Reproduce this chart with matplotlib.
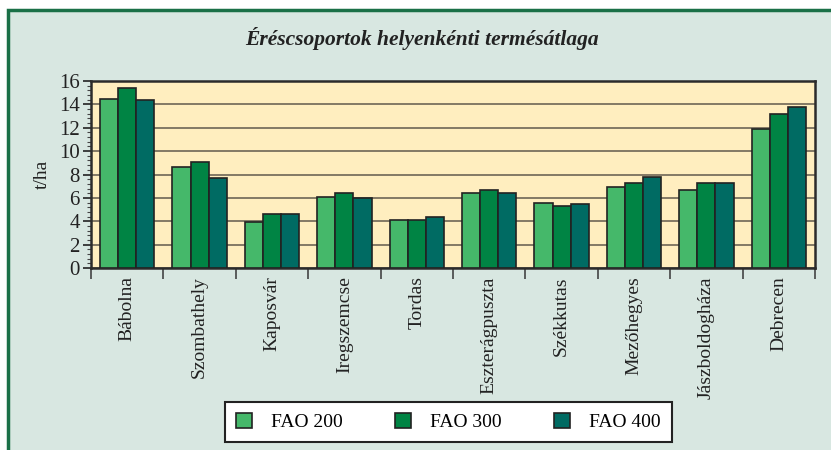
import matplotlib.pyplot as plt
import matplotlib.patches as mpatches
import numpy as np

helyek = ["Bábolna", "Szombathely", "Kaposvár", "Iregszemcse", "Tordas",
          "Eszterágpuszta", "Székkutas", "Mezőhegyes", "Jászboldogháza", "Debrecen"]
fao200 = [14.5, 8.6, 3.9, 6.1, 4.1, 6.4, 5.6, 6.9, 6.7, 11.9]
fao300 = [15.4, 9.1, 4.6, 6.4, 4.1, 6.7, 5.3, 7.3, 7.3, 13.2]
fao400 = [14.4, 7.7, 4.6, 6.0, 4.4, 6.4, 5.5, 7.8, 7.3, 13.8]
sorozatok = ["FAO 200", "FAO 300", "FAO 400"]
szinek = ["#45b86a", "#008444", "#006b63"]

plt.rcParams["font.family"] = ["Liberation Serif", "DejaVu Serif"]

fig = plt.figure(figsize=(8.31, 4.5), dpi=100, facecolor="white")
# background frame with green border (top and left only visible)
fig.patches.append(mpatches.Rectangle((8 / 831, -0.1), 1.1, 1 - 10 / 450 + 0.1,
                                      transform=fig.transFigure, facecolor="#d8e7e1",
                                      edgecolor="#1a7047", linewidth=2.5, zorder=-10))

ax = fig.add_axes([91 / 831, 1 - 268 / 450, (815 - 91) / 831, (268 - 81) / 450])
ax.set_facecolor("#ffeebf")

x = np.arange(len(helyek))
w = 0.25
for i, (vals, nev, c) in enumerate(zip([fao200, fao300, fao400], sorozatok, szinek)):
    ax.bar(x + (i - 1) * w, vals, width=w, color=c, edgecolor="#222222",
           linewidth=1.2, label=nev, zorder=3)

ax.set_xlim(-0.5, len(helyek) - 0.5)
ax.set_ylim(0, 16)
ax.set_yticks(range(0, 17, 2))
ax.set_yticks(np.arange(0, 16.01, 0.4), minor=True)
ax.yaxis.grid(True, color="#6e6656", linewidth=1.2, zorder=1)
ax.set_axisbelow(True)
ax.tick_params(axis="y", which="major", direction="out", length=6, width=1.2,
               labelsize=15, pad=2, colors="#222222")
ax.tick_params(axis="y", which="minor", direction="out", length=3, width=0.8, colors="#444444")

# category separators as x ticks, labels in between
ax.set_xticks(np.arange(-0.5, len(helyek), 1))
ax.set_xticklabels([])
ax.set_xticks(x, minor=True)
ax.set_xticklabels(helyek, minor=True, rotation=90, fontsize=14, va="top", ha="center")
ax.tick_params(axis="x", which="major", direction="out", length=8, width=1.2, colors="#444444")
ax.tick_params(axis="x", which="minor", length=0, pad=6, labelcolor="#222222")

for s in ax.spines.values():
    s.set_color("#2b2b2b")
    s.set_linewidth(1.8)

ax.set_ylabel("t/ha", fontsize=14, labelpad=6, color="#222222")

fig.text(0.508, 1 - 38 / 450, "Éréscsoportok helyenkénti termésátlaga", ha="center", va="center",
         fontsize=15.5, fontstyle="italic", fontweight="bold", color="#222222")

leg = ax.legend(loc="center", bbox_to_anchor=(448.5 / 831, 1 - 422 / 450),
                bbox_transform=fig.transFigure, ncol=3, frameon=True, fancybox=False,
                fontsize=14, handlelength=0.8, handleheight=0.8, columnspacing=2.7,
                handletextpad=1.0, borderpad=0.55, borderaxespad=0)
leg.get_frame().set_edgecolor("#222222")
leg.get_frame().set_linewidth(1.5)
leg.get_frame().set_facecolor("white")
leg.get_frame().set_alpha(1)
leg._legend_box.align = "center"
for h in leg.legend_handles:
    h.set_linewidth(1.2)

fig.savefig("out.png", dpi=100)
